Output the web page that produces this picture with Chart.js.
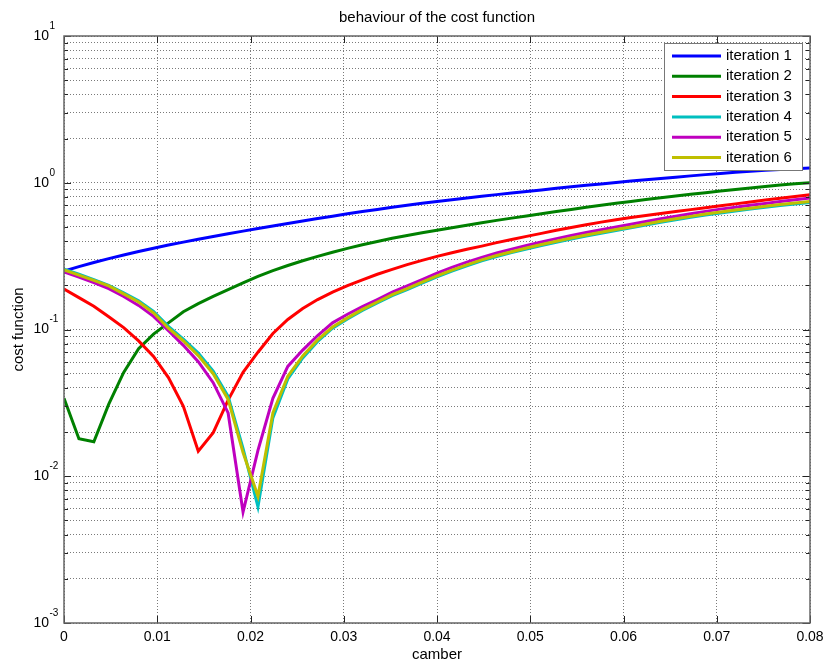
<!DOCTYPE html>
<html>
<head>
<meta charset="utf-8">
<title>behaviour of the cost function</title>
<script src="https://cdn.jsdelivr.net/npm/chart.js@4.4.0/dist/chart.umd.min.js"></script>
<style>
  body { margin: 0; background: #fff; }
  #wrap { width: 828px; height: 670px; }
</style>
</head>
<body>
<div id="wrap"><canvas id="myChart"></canvas></div>
<script>
// camber values (x)
const camber = [0, 0.0016, 0.0032, 0.0048, 0.0064, 0.008, 0.0096, 0.0112, 0.0128, 0.0144,
  0.016, 0.0176, 0.0192, 0.0208, 0.0224, 0.024, 0.0256, 0.0272, 0.0288, 0.0304,
  0.032, 0.0336, 0.0352, 0.0368, 0.0384, 0.04, 0.0416, 0.0432, 0.0448, 0.0464,
  0.048, 0.0496, 0.0512, 0.0528, 0.0544, 0.056, 0.0576, 0.0592, 0.0608, 0.0624,
  0.064, 0.0656, 0.0672, 0.0688, 0.0704, 0.072, 0.0736, 0.0752, 0.0768, 0.0784, 0.08];

// cost function per iteration
const iter1 = [0.250, 0.268, 0.286, 0.304, 0.322, 0.340, 0.358, 0.376, 0.394, 0.412,
  0.430, 0.449, 0.468, 0.488, 0.508, 0.528, 0.549, 0.570, 0.592, 0.614,
  0.636, 0.658, 0.680, 0.702, 0.724, 0.746, 0.767, 0.788, 0.809, 0.830,
  0.851, 0.872, 0.894, 0.916, 0.938, 0.960, 0.982, 1.004, 1.026, 1.048,
  1.070, 1.092, 1.114, 1.136, 1.158, 1.178, 1.198, 1.218, 1.232, 1.246, 1.26];
const iter2 = [0.034, 0.018, 0.0172, 0.031, 0.051, 0.074, 0.093, 0.111, 0.132, 0.150,
  0.168, 0.187, 0.208, 0.230, 0.252, 0.273, 0.294, 0.315, 0.336, 0.357,
  0.378, 0.398, 0.418, 0.437, 0.456, 0.475, 0.494, 0.514, 0.534, 0.554,
  0.574, 0.594, 0.614, 0.636, 0.658, 0.680, 0.702, 0.724, 0.746, 0.768,
  0.790, 0.812, 0.834, 0.856, 0.878, 0.900, 0.922, 0.944, 0.966, 0.985, 1.00];
const iter3 = [0.189, 0.165, 0.144, 0.122, 0.103, 0.0836, 0.0655, 0.047, 0.030, 0.0148,
  0.0198, 0.033, 0.051, 0.070, 0.094, 0.117, 0.139, 0.160, 0.180, 0.199,
  0.218, 0.238, 0.257, 0.277, 0.296, 0.315, 0.333, 0.352, 0.370, 0.391,
  0.411, 0.431, 0.452, 0.474, 0.496, 0.518, 0.539, 0.559, 0.580, 0.599,
  0.618, 0.637, 0.656, 0.676, 0.696, 0.718, 0.740, 0.762, 0.785, 0.807, 0.83];
const iter4 = [0.258, 0.238, 0.219, 0.200, 0.178, 0.157, 0.133, 0.105, 0.086, 0.069,
  0.052, 0.035, 0.0155, 0.0062, 0.025, 0.046, 0.064, 0.083, 0.102, 0.118,
  0.135, 0.152, 0.170, 0.187, 0.207, 0.228, 0.250, 0.272, 0.294, 0.314,
  0.334, 0.354, 0.373, 0.393, 0.414, 0.433, 0.453, 0.473, 0.493, 0.515,
  0.538, 0.560, 0.581, 0.603, 0.623, 0.642, 0.661, 0.681, 0.700, 0.717, 0.735];
const iter5 = [0.247, 0.228, 0.209, 0.190, 0.168, 0.146, 0.123, 0.098, 0.078, 0.0603,
  0.0434, 0.027, 0.0057, 0.015, 0.034, 0.056, 0.0724, 0.091, 0.111, 0.127,
  0.143, 0.160, 0.180, 0.198, 0.219, 0.242, 0.265, 0.288, 0.310, 0.332,
  0.353, 0.374, 0.395, 0.416, 0.437, 0.458, 0.478, 0.499, 0.521, 0.545,
  0.568, 0.591, 0.614, 0.638, 0.661, 0.682, 0.702, 0.723, 0.745, 0.766, 0.787];
const iter6 = [0.255, 0.235, 0.216, 0.198, 0.175, 0.154, 0.130, 0.102, 0.0838, 0.0664,
  0.050, 0.0334, 0.0145, 0.0073, 0.027, 0.048, 0.066, 0.085, 0.104, 0.120,
  0.137, 0.154, 0.173, 0.190, 0.210, 0.232, 0.254, 0.276, 0.298, 0.319,
  0.339, 0.359, 0.379, 0.399, 0.420, 0.440, 0.460, 0.480, 0.500, 0.523,
  0.546, 0.568, 0.590, 0.612, 0.632, 0.652, 0.671, 0.691, 0.710, 0.728, 0.746];

const seriesNames = ['iteration 1', 'iteration 2', 'iteration 3', 'iteration 4', 'iteration 5', 'iteration 6'];
const seriesColors = ['#0000ff', '#008000', '#ff0000', '#00bfbf', '#bf00bf', '#bfbf00'];

// ticks
const xTicks = [0, 0.01, 0.02, 0.03, 0.04, 0.05, 0.06, 0.07, 0.08];
const xTickLabels = ['0', '0.01', '0.02', '0.03', '0.04', '0.05', '0.06', '0.07', '0.08'];
const yTicks = [0.001, 0.002, 0.003, 0.004, 0.005, 0.006, 0.007, 0.008, 0.009,
  0.01, 0.02, 0.03, 0.04, 0.05, 0.06, 0.07, 0.08, 0.09,
  0.1, 0.2, 0.3, 0.4, 0.5, 0.6, 0.7, 0.8, 0.9,
  1, 2, 3, 4, 5, 6, 7, 8, 9, 10];
const yDecades = [0.001, 0.01, 0.1, 1, 10];
const yExponents = ['-3', '-2', '-1', '0', '1'];

const FONT = '"Liberation Sans", Arial, Helvetica, sans-serif';

let ctx;
let myChart;

// everything matlab-like that chart.js won't draw itself
const marcoPlugin = {
  id: 'marco',
  afterDraw(chart) {
    const c = chart.ctx;
    const a = chart.chartArea;
    const sx = chart.scales.x;
    const sy = chart.scales.y;
    c.save();

    // tick marks inside the box
    c.strokeStyle = '#222';
    c.lineWidth = 1;
    c.beginPath();
    xTicks.forEach(v => {
      const px = Math.round(sx.getPixelForValue(v)) + 0.5;
      c.moveTo(px, a.bottom); c.lineTo(px, a.bottom - 7);
      c.moveTo(px, a.top); c.lineTo(px, a.top + 7);
    });
    yTicks.forEach(v => {
      const py = Math.round(sy.getPixelForValue(v)) + 0.5;
      const len = yDecades.includes(v) ? 7 : 4;
      c.moveTo(a.left, py); c.lineTo(a.left + len, py);
      c.moveTo(a.right, py); c.lineTo(a.right - len, py);
    });
    c.stroke();

    // box
    c.strokeStyle = '#666';
    c.lineWidth = 1.5;
    c.strokeRect(a.left, a.top, a.right - a.left, a.bottom - a.top);

    // x tick labels
    c.fillStyle = '#000';
    c.font = '14px ' + FONT;
    c.textAlign = 'center';
    c.textBaseline = 'middle';
    xTicks.forEach((v, i) => {
      c.fillText(xTickLabels[i], sx.getPixelForValue(v), a.bottom + 14);
    });

    // y tick labels 10^n
    yDecades.forEach((v, i) => {
      const py = sy.getPixelForValue(v);
      c.font = '14px ' + FONT;
      c.textAlign = 'right';
      c.textBaseline = 'middle';
      c.fillText('10', 49, py);
      c.font = '10px ' + FONT;
      c.textAlign = 'left';
      c.fillText(yExponents[i], 49.5, py - 10);
    });

    // titles
    c.font = '15px ' + FONT;
    c.textAlign = 'center';
    c.textBaseline = 'middle';
    c.fillText('behaviour of the cost function', (a.left + a.right) / 2, 18);
    c.fillText('camber', (a.left + a.right) / 2, 655);
    c.save();
    c.translate(19, (a.top + a.bottom) / 2);
    c.rotate(-Math.PI / 2);
    c.fillText('cost function', 0, 0);
    c.restore();

    // legend
    const lx = 664, ly = 43, lw = 138, lh = 127;
    c.fillStyle = '#fff';
    c.fillRect(lx, ly, lw, lh);
    c.strokeStyle = '#777';
    c.lineWidth = 1;
    c.strokeRect(lx + 0.5, ly + 0.5, lw, lh);
    c.font = '15px ' + FONT;
    c.textAlign = 'left';
    c.textBaseline = 'middle';
    seriesNames.forEach((name, i) => {
      const ey = 56 + i * 20.3;
      c.strokeStyle = seriesColors[i];
      c.lineWidth = 3;
      c.beginPath();
      c.moveTo(672, ey); c.lineTo(721, ey);
      c.stroke();
      c.fillStyle = '#000';
      c.fillText(name, 726, ey);
    });

    c.restore();
  }
};

function crearGrafico() {

    if (typeof (myChart) == "object") {
        myChart.destroy();
    }

    ctx = document.getElementById('myChart').getContext('2d');

    const allSeries = [iter1, iter2, iter3, iter4, iter5, iter6];

    myChart = new Chart(ctx, {
        type: 'line',
        data: {
            datasets: allSeries.map((serie, i) => ({
                label: seriesNames[i],
                data: camber.map((x, j) => ({ x: x, y: serie[j] })),
                borderColor: seriesColors[i],
                backgroundColor: seriesColors[i],
                borderWidth: 3,
                pointRadius: 0,
                tension: 0,
                fill: false,
                order: allSeries.length - 1 - i
            }))
        },
        options: {
            responsive: true,
            maintainAspectRatio: false,
            animation: false,
            layout: { padding: { top: 36, right: 18, left: 0, bottom: 0 } },
            plugins: {
                legend: { display: false },
                title: { display: false },
                tooltip: { enabled: false }
            },
            scales: {
                x: {
                    type: 'linear',
                    min: 0,
                    max: 0.08,
                    afterBuildTicks: s => { s.ticks = xTicks.map(v => ({ value: v })); },
                    afterFit: s => { s.height = 47; },
                    ticks: { display: false },
                    grid: { color: '#7a7a7a', lineWidth: 1, drawTicks: false },
                    border: { display: false, dash: [1, 2] }
                },
                y: {
                    type: 'logarithmic',
                    min: 0.001,
                    max: 10,
                    afterBuildTicks: s => { s.ticks = yTicks.map(v => ({ value: v })); },
                    afterFit: s => { s.width = 64; },
                    ticks: { display: false },
                    grid: { color: '#7a7a7a', lineWidth: 1, drawTicks: false },
                    border: { display: false, dash: [1, 2] }
                }
            }
        },
        plugins: [marcoPlugin]
    });
}

crearGrafico();
</script>
</body>
</html>
